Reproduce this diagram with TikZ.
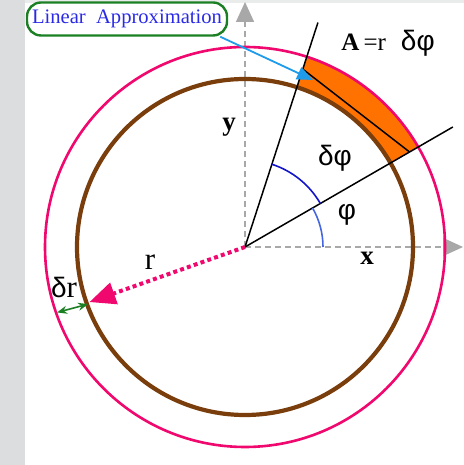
\documentclass[tikz,border=0pt]{standalone}
\usepackage{fontspec}
\setmainfont{Liberation Serif}
\newfontfamily\grkfont{Liberation Sans}
\usetikzlibrary{arrows.meta, positioning, calc}
\definecolor{cpink}{HTML}{F0086E}
\definecolor{cbrown}{HTML}{7A3E0C}
\definecolor{corange}{HTML}{FF7200}
\definecolor{cgreen}{HTML}{1B7F24}
\definecolor{ctext}{HTML}{2A2AE6}
\definecolor{carrow}{HTML}{1E9CEB}
\definecolor{carc}{HTML}{1414C8}
\definecolor{carclight}{HTML}{4466E0}
\definecolor{caxis}{HTML}{A8A8A8}
\definecolor{cside}{HTML}{DCDDDE}
\newcommand{\grk}[1]{{\grkfont\fontsize{14}{16}\selectfont #1}}
\tikzset{
  axisline/.style={caxis, line width=0.8pt, dash pattern=on 3pt off 2pt,
                   -{Triangle[length=10pt, width=9pt]}},
  ray/.style={black, line width=0.75pt},
  anglearc/.style={line width=0.8pt},
  lbl/.style={font=\fontsize{12.5}{14}\selectfont, inner sep=0pt},
  boldlbl/.style={font=\fontsize{13.5}{15}\selectfont\bfseries, inner sep=0pt},
  biglbl/.style={font=\fontsize{15.5}{17}\selectfont, inner sep=0pt},
  notebox/.style={draw=cgreen, line width=1.2pt, rounded corners=7pt, text=ctext,
                  minimum width=100pt, minimum height=16.5pt, inner sep=2pt,
                  font=\fontsize{10.3}{12}\selectfont},
}

\begin{document}
\begin{tikzpicture}[x=0.5pt, y=0.5pt]
  \useasboundingbox (0,0) rectangle (464,465);

  %% ── Page margins ──
  \fill[cside] (0,0) rectangle (25,465);
  \fill[cside!60] (25,462) rectangle (464,465);

  %% ── Centre and named points ──
  \coordinate (O) at (245,218);
  \coordinate (xend) at (463,218);
  \coordinate (yend) at (245,463);
  \coordinate (phiend) at ($(O)+(30:240)$);
  \coordinate (dphiend) at ($(O)+(72:236)$);
  \coordinate (chA) at ($(O)+(72:187)$);
  \coordinate (chB) at ($(O)+(30:190)$);
  \coordinate (rtip) at ($(O)+(199.5:165)$);
  \coordinate (drout) at ($(O)+(199.2:199)$);
  \coordinate (drin) at ($(O)+(200:167)$);
  \coordinate (lintip) at (313,385);

  %% ═══════════ AXES ═══════════
  \draw[axisline] (O) -- (xend);
  \draw[axisline] (O) -- (yend);

  %% ═══════════ RING ═══════════
  %% Area element (annular sector)
  \fill[corange] ($(O)+(30:168)$) arc[start angle=30, end angle=72, radius=168]
    -- ($(O)+(72:200)$) arc[start angle=72, end angle=30, radius=200] -- cycle;
  \draw[cbrown, line width=2.1pt] (O) circle (168);
  \draw[cpink, line width=1.3pt] (O) circle (200);

  %% Rays and chord
  \draw[ray] (O) -- (phiend);
  \draw[ray] (O) -- (dphiend);
  \draw[ray] (chA) -- (chB);

  %% Angle arcs
  \draw[carclight, anglearc] ($(O)+(0:78)$) arc[start angle=0, end angle=30, radius=78];
  \draw[carc, anglearc] ($(O)+(30:87)$) arc[start angle=30, end angle=72, radius=87];

  %% Radius r and thickness dr
  \draw[cpink, line width=2pt, dash pattern=on 2pt off 1.6pt,
        -{Triangle[length=13pt, width=11pt]}] (O) -- (rtip);
  \draw[cgreen, line width=0.8pt,
        {Stealth[length=5pt, width=4pt]}-{Stealth[length=5pt, width=4pt]}] (drout) -- (drin);

  %% ═══════════ LABELS ═══════════
  \node[lbl] (arealbl) at (388,422) {\textbf{A}\,=r\hspace{0.6em}\grk{δφ}};
  \node[boldlbl] (ylbl) at (229,338) {y};
  \node[boldlbl] (xlbl) at (367,207) {x};
  \node[lbl] (dphilbl) at (335,307) {\grk{δφ}};
  \node[lbl] (philbl) at (347,250) {\grk{φ}};
  \node[biglbl] (rlbl) at (150,203) {r};
  \node[biglbl] (drlbl) at (64,178) {\grk{δ}r};

  %% Note box and pointer
  \node[notebox] (linbox) at (127,446) {Linear\ \ Approximation};
  \draw[carrow, line width=0.9pt, -{Triangle[length=8pt, width=6.5pt]}]
    ([xshift=-4pt]linbox.south east) -- (lintip);

\end{tikzpicture}
\end{document}
